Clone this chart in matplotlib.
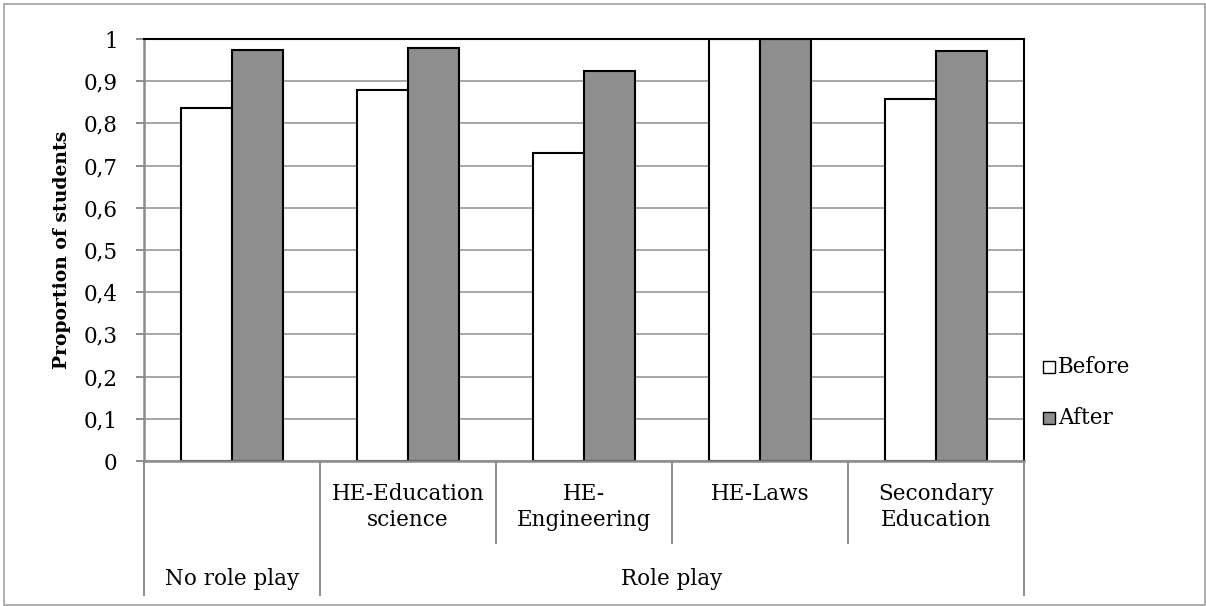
import matplotlib
matplotlib.use("Agg")
import matplotlib.pyplot as plt
from matplotlib.patches import Rectangle
from matplotlib.transforms import blended_transform_factory

# Data
groups = ["No role play", "Role play"]
group_spans = [(0, 0), (1, 4)]
categories = ["", "HE-Education\nscience", "HE-\nEngineering", "HE-Laws", "Secondary\nEducation"]
before = [0.837, 0.878, 0.731, 1.0, 0.858]
after = [0.973, 0.979, 0.924, 1.0, 0.972]
yticks = [0, 0.1, 0.2, 0.3, 0.4, 0.5, 0.6, 0.7, 0.8, 0.9, 1]
ytick_labels = ["0", "0,1", "0,2", "0,3", "0,4", "0,5", "0,6", "0,7", "0,8", "0,9", "1"]
series_names = ["Before", "After"]

W, H = 1206, 606
FONT = "DejaVu Serif"
FS = 15.5
GRID = "#a6a6a6"
AXIS = "#8c8c8c"
FILL_AFTER = "#8e8e8e"

plt.rcParams["font.family"] = FONT

fig = plt.figure(figsize=(W / 100, H / 100), dpi=100)

# outer chart border
fig.patches.append(Rectangle((4 / W, 1 / H), 1201 / W, (H - 5) / H, transform=fig.transFigure,
                             fill=False, edgecolor="#a0a0a0", linewidth=1.2))

def px(x0, y0, x1, y1):
    return [x0 / W, 1 - y1 / H, (x1 - x0) / W, (y1 - y0) / H]

ax = fig.add_axes(px(144, 39, 1024, 461))

n = len(categories)
xs = list(range(n))
bw = 0.29
ax.bar([x - bw / 2 for x in xs], before, width=bw, color="white", edgecolor="black",
       linewidth=1.5, zorder=3)
ax.bar([x + bw / 2 for x in xs], after, width=bw, color=FILL_AFTER, edgecolor="black",
       linewidth=1.5, zorder=3)

ax.set_xlim(-0.5, n - 0.5)
ax.set_ylim(0, 1)
ax.set_yticks(yticks)
ax.set_yticklabels(ytick_labels, fontsize=FS)
ax.set_xticks([])
ax.yaxis.grid(True, color=GRID, linewidth=1.4, zorder=0)
ax.set_axisbelow(True)
ax.tick_params(axis="y", length=6, width=1.4, color=AXIS, pad=13)

for side in ("top", "right"):
    ax.spines[side].set_color("black")
    ax.spines[side].set_linewidth(1.5)
    ax.spines[side].set_zorder(4)
for side in ("left", "bottom"):
    ax.spines[side].set_color(AXIS)
    ax.spines[side].set_linewidth(1.8)
    ax.spines[side].set_zorder(4)

# category axis: separators and labels below the plot
tr = blended_transform_factory(ax.transData, fig.transFigure)
short_y = 1 - 543 / H
long_y = 1 - 595 / H
base_y = 1 - 461 / H
outer = {-0.5, n - 0.5}
for a, b in group_spans:
    outer.add(a - 0.5)
    outer.add(b + 0.5)
for k in range(n + 1):
    xb = k - 0.5
    y_end = long_y if xb in outer else short_y
    ax.plot([xb, xb], [base_y, y_end], transform=tr, color=AXIS, linewidth=1.4,
            clip_on=False, zorder=2)

for x, lab in zip(xs, categories):
    if lab:
        t = fig.text(0, 1 - 483 / H, lab, transform=tr, ha="center", va="top",
                     fontsize=FS, linespacing=1.22)
        t.set_x(x)

for name, (a, b) in zip(groups, group_spans):
    t = fig.text(0, 1 - 579 / H, name, transform=tr, ha="center", va="center", fontsize=FS)
    t.set_x((a + b) / 2)

fig.text(62 / W, 1 - 250 / H, "Proportion of students", rotation=90, ha="center",
         va="center", fontsize=13.5, fontweight="bold")

# legend
for name, fc, yc in zip(series_names, ["white", FILL_AFTER], [367, 418]):
    fig.patches.append(Rectangle((1043 / W, 1 - (yc + 6) / H), 12 / W, 12 / H,
                                 transform=fig.transFigure, facecolor=fc,
                                 edgecolor="black", linewidth=1.0))
    fig.text(1058 / W, 1 - yc / H, name, ha="left", va="center", fontsize=FS)

fig.savefig("out.png", dpi=100)
